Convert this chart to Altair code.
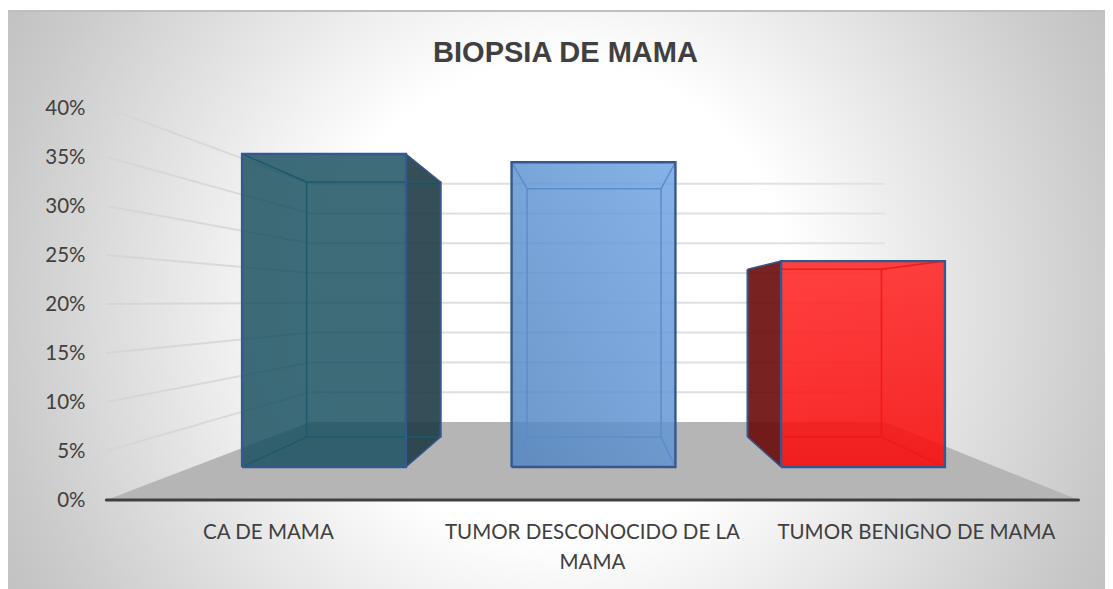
import altair as alt
import pandas as pd

# ---- data ----
categories = ["CA DE MAMA", "TUMOR DESCONOCIDO DE LA\nMAMA", "TUMOR BENIGNO DE MAMA"]
values = [38, 37, 25]
axis_ticks = [0, 5, 10, 15, 20, 25, 30, 35, 40]
title_text = "BIOPSIA DE MAMA"

side_fill = ["#1e3c46", None, "#690a0a"]
inner_line = ["#1d5a6e", "#5b8dcb", "#f01818"]
outer_line = "#35598f"

# ---- 3-D projection: each depth plane has a base, a height scale, a spacing, an x shift ----
W, H = 1097, 581
PX_PER_UNIT = 269.5
PX_PER_PCT = 9.8
CX, Y0 = 593.5, 500.0  # page position of the centre category and of the 0% line
PLANES = {
    "axis":  dict(base=0.0,   k=1.0,    sp=1.2022, sh=-0.004),
    "front": dict(base=3.367, k=0.8405, sp=1.0,    sh=0.0),
    "back":  dict(base=6.43,  k=0.6847, sp=0.818,  sh=0.002),
    "wall":  dict(base=7.96,  k=0.608,  sp=0.711,  sh=0.015),
}
HALF = {"front": 0.304, "back": 0.2486}


def px(plane, u):
    p = PLANES[plane]
    return u * p["sp"] + p["sh"]


def py(plane, v):
    p = PLANES[plane]
    return p["base"] + v * p["k"]


def corners(i, v, plane):
    xc = i - 1
    h = HALF[plane]
    return (px(plane, xc) - h, px(plane, xc) + h, py(plane, 0), py(plane, v))


x_scale = alt.Scale(
    domain=[(8 - CX) / PX_PER_UNIT, (8 + W - CX) / PX_PER_UNIT], nice=False, zero=False
)
y_scale = alt.Scale(
    domain=[(Y0 - 589) / PX_PER_PCT, (Y0 - 8) / PX_PER_PCT], nice=False, zero=False
)
y_axis = alt.Axis(
    values=axis_ticks, labelExpr="datum.value + '%'", title=None, domain=False,
    ticks=False, tickSize=0, grid=False, offset=-77, labelPadding=0, zindex=1,
    labelFont="Lato", labelFontSize=20.5, labelColor="#404040",
)
X = alt.X("x:Q", scale=x_scale, axis=None)
Y = alt.Y("y:Q", scale=y_scale, axis=y_axis)
one = pd.DataFrame({"a": [1]})


def stops(*cs):
    return [alt.GradientStop(offset=o, color=c) for o, c in cs]


# ---- background ----
bg = alt.Chart(one).mark_rect(
    fill=alt.RadialGradient(
        gradient="radial", x1=0.5, y1=0.5, x2=0.5, y2=0.5, r1=0, r2=0.6,
        stops=stops((0.0, "#ffffff"), (0.36, "#ffffff"), (0.85, "#cacaca"), (1.0, "#bdbdbd")),
    )
).encode(x=alt.value(0), x2=alt.value(W), y=alt.value(3), y2=alt.value(H))
border = alt.Chart(one).mark_rule(color="#bfbfbf", strokeWidth=2).encode(
    x=alt.value(0), x2=alt.value(W), y=alt.value(3)
)

# ---- left wall + back wall gridlines ----
rows = []
for t in axis_ticks[1:]:
    pts = [(px("axis", -1.5), py("axis", t)), (px("wall", -1.5), py("wall", t)), (px("wall", 1.5), py("wall", t))]
    for k, (a, b) in enumerate(pts):
        rows.append(dict(t=t, k=k, x=a, y=b))
grid = alt.Chart(pd.DataFrame(rows)).mark_line(
    stroke=alt.LinearGradient(
        gradient="linear", x1=0, y1=0, x2=1, y2=0,
        stops=stops((0, "#d5d5d5"), (0.26, "#dcdcdc"), (1, "#e2e2e2")),
    ),
    strokeWidth=2,
).encode(x=X, y=Y, detail="t:N", order="k:Q")

# ---- floor ----
floor_df = pd.DataFrame([
    dict(y=py("axis", 0), x=px("axis", -1.5), x1=px("axis", 1.5)),
    dict(y=py("wall", 0), x=px("wall", -1.5), x1=px("wall", 1.5)),
])
floor = alt.Chart(floor_df).mark_area(orient="horizontal", color="#b5b5b5").encode(
    y=Y, x=alt.X("x:Q", scale=x_scale, axis=None), x2="x1:Q"
)

# ---- visible side faces (dark) ----
rows = []
for i, v in enumerate(values):
    if side_fill[i] is None:
        continue
    fx0, fx1, fb, ft = corners(i, v, "front")
    bx0, bx1, bb, bt = corners(i, v, "back")
    if i == 0:
        seg = [(fx1, fb, ft), (bx1, bb, bt)]
    else:
        seg = [(bx0, bb, bt), (fx0, fb, ft)]
    for a, b, c in seg:
        rows.append(dict(id=i, x=a, y=b, y1=c, c=side_fill[i]))
sides = alt.Chart(pd.DataFrame(rows)).mark_area(fillOpacity=0.9).encode(
    x=X, y=Y, y2="y1:Q", detail="id:N", color=alt.Color("c:N", scale=None)
)

grads = [
    alt.LinearGradient(gradient="linear", x1=0, y1=0, x2=0, y2=1,
                       stops=stops((0, "#19505f"), (1, "#184f5f"))),
    alt.LinearGradient(gradient="linear", x1=0, y1=1, x2=1, y2=0,
                       stops=stops((0, "#4f84c1"), (1, "#70a3e3"))),
    alt.LinearGradient(gradient="linear", x1=0, y1=0, x2=0, y2=1,
                       stops=stops((0, "#ff2626"), (1, "#f80a0a"))),
]
alphas = [0.84, 0.84, 0.88]

# ---- front faces (translucent) ----
fronts = []
for i, v in enumerate(values):
    x0, x1, b, t = corners(i, v, "front")
    d = pd.DataFrame([dict(x=x0, x1=x1, y=b, y1=t)])
    fronts.append(
        alt.Chart(d).mark_rect(fill=grads[i], fillOpacity=alphas[i]).encode(
            x=X, x2="x1:Q", y=Y, y2="y1:Q"
        )
    )

# ---- cube edges ----
rows = []


def edge(name, pts, color, width):
    for k, (a, b) in enumerate(pts):
        rows.append(dict(id=name, k=k, x=a, y=b, c=color, w=width))


for i, v in enumerate(values):
    fx0, fx1, fb, ft = corners(i, v, "front")
    bx0, bx1, bb, bt = corners(i, v, "back")
    il = inner_line[i]
    left = fx0 if i == 2 else bx0  # the red cube's back edges stop at its dark side face
    edge(f"{i}back", [(left, bb), (bx1, bb), (bx1, bt), (left, bt)], il, 1.5)
    if i != 2:
        edge(f"{i}backl", [(bx0, bb), (bx0, bt)], il, 1.5)
    edge(f"{i}dl1", [(fx0, ft), (bx0, bt)], il if i != 2 else outer_line, 1.5)
    edge(f"{i}dl2", [(fx0, fb), (bx0, bb)], il if i != 2 else outer_line, 1.5)
    edge(f"{i}dr1", [(fx1, ft), (bx1, bt)], outer_line if i == 0 else il, 1.5)
    edge(f"{i}dr2", [(fx1, fb), (bx1, bb)], outer_line if i == 0 else il, 1.5)
    if i == 0:
        edge(f"{i}out", [(bx1, bb), (bx1, bt)], outer_line, 2)
    if i == 2:
        edge(f"{i}out", [(bx0, bb), (bx0, bt)], outer_line, 2)
    edge(f"{i}front", [(fx0, fb), (fx1, fb), (fx1, ft), (fx0, ft), (fx0, fb)], outer_line, 2.4)
edges = alt.Chart(pd.DataFrame(rows)).mark_line(strokeJoin="miter").encode(
    x=X, y=Y, detail="id:N", order="k:Q",
    color=alt.Color("c:N", scale=None),
    strokeWidth=alt.StrokeWidth("w:Q", scale=None),
)

# ---- baseline ----
base_df = pd.DataFrame([dict(x=px("axis", -1.5), y=0.0), dict(x=px("axis", 1.5), y=0.0)])
baseline = alt.Chart(base_df).mark_line(color="#404040", strokeWidth=3.2, strokeCap="round").encode(
    x=X, y=Y
)

# ---- category labels ----
label_df = pd.DataFrame([
    dict(x=px("axis", i - 1), y=-2.3, label=c) for i, c in enumerate(categories)
])
labels = alt.Chart(label_df).mark_text(
    font="Lato", fontSize=20.5, color="#404040", baseline="top", align="center",
    lineBreak="\n", lineHeight=30,
).encode(x=X, y=Y, text="label:N")

chart = alt.layer(
    bg, border, grid, floor, sides, *fronts, edges, baseline, labels
).properties(
    width=W, height=H,
    padding=0,
    autosize=alt.AutoSizeParams(type="none"),
    background="white",
    title=alt.TitleParams(
        text=title_text, font="Liberation Sans", fontSize=29, fontWeight="bold",
        color="#404040", anchor="middle", frame="group", dy=60, dx=9, offset=0,
    ),
).configure_view(stroke=None)

chart.save("out.html", embed_options={"renderer": "svg", "actions": False})
